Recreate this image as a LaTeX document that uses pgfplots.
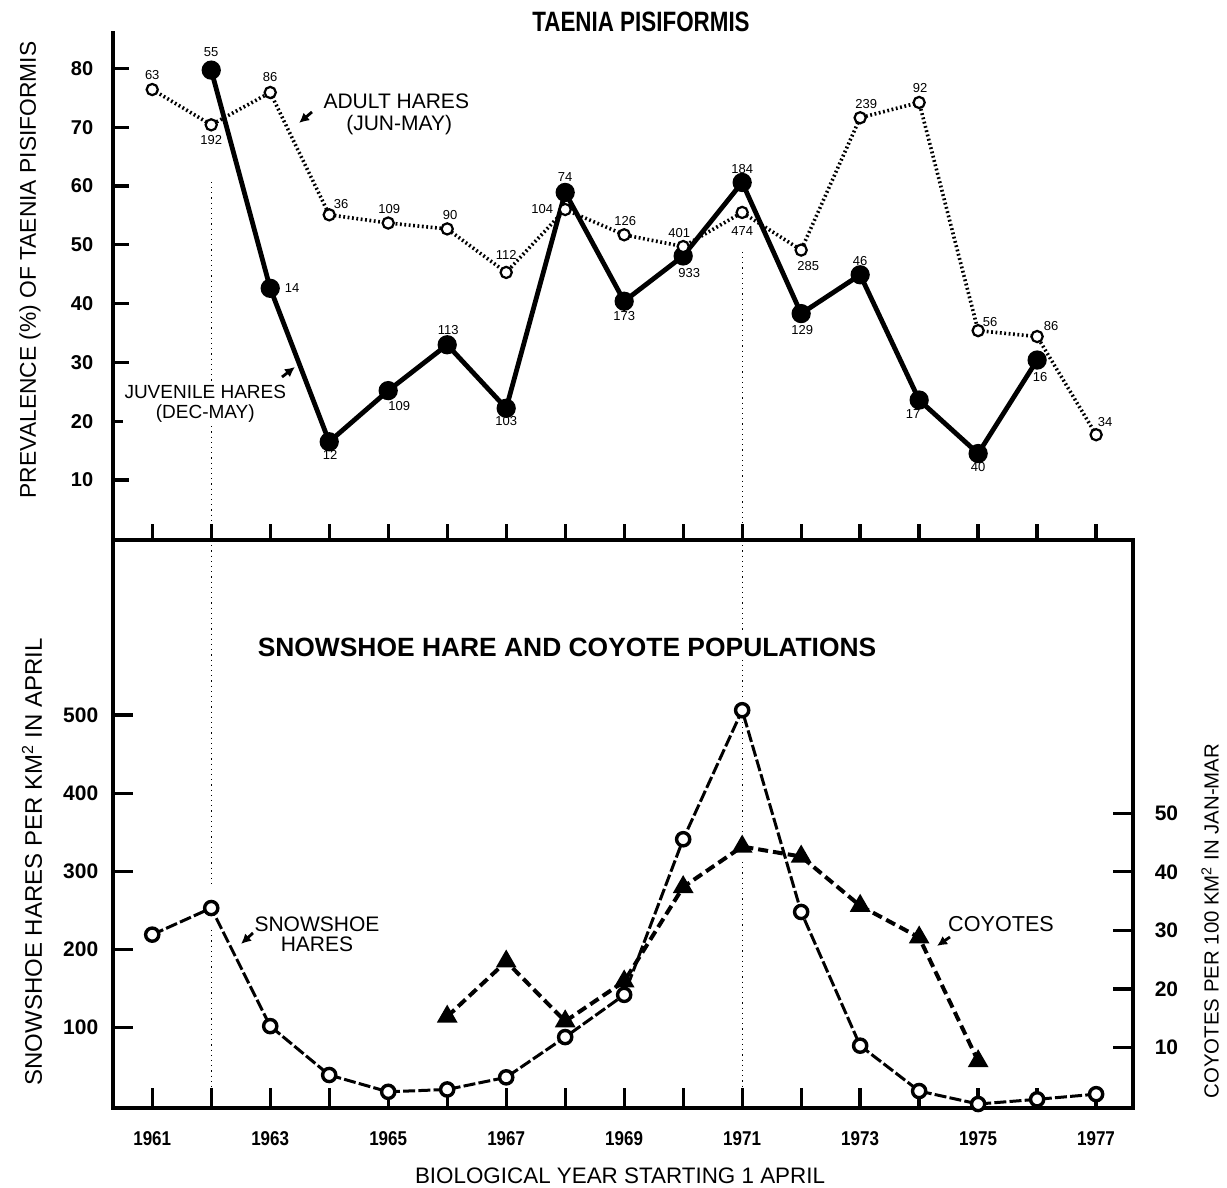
\documentclass[border=0pt]{standalone}
\usepackage{fontspec}
\setmainfont{Liberation Sans}
\newfontfamily\narrowfont[FakeStretch=0.85]{Liberation Sans}
\newfontfamily\titlefont[FakeStretch=0.8]{Liberation Sans}
\usepackage{pgfplots}
\pgfplotsset{compat=1.18}
\usetikzlibrary{arrows.meta}

% data label helper: year, value, dx, dy, text
\newcommand{\lab}[5]{\node[font=\fontsize{6.5}{7}\selectfont, inner sep=0pt] at (axis cs:#1,#2) [xshift=#3pt, yshift=#4pt] {#5};}

\pgfplotsset{
  panel/.style={
    width=509.7pt, scale only axis,
    xmin=1960.34, xmax=1977.62,
    axis line style={line width=2pt, -},
    tick style={line width=1.6pt, black},
    tick align=inside,
    /pgf/number format/assume math mode=true,
    clip=false,
  }
}

\begin{document}
\begin{tikzpicture}
\path[use as bounding box] (-56.65pt,-40pt) rectangle (556.85pt,554pt);

% ---------- top panel: prevalence ----------
\begin{axis}[
  panel,
  at={(0,284pt)}, anchor=south west,
  height=254.5pt,
  ymin=-0.2, ymax=86.36,
  axis x line*=bottom, axis y line*=left,
  xtick={1961,...,1977}, xticklabels={},
  ytick={10,20,...,80},
  major tick length=8pt,
  yticklabel style={font=\bfseries\fontsize{10}{12}\selectfont, xshift=-6.5pt},
]
\draw[dotted, line width=0.6pt] (axis cs:1962,60.7) -- (axis cs:1962,-0.2);
\draw[dotted, line width=0.6pt] (axis cs:1971,48.8) -- (axis cs:1971,-0.2);

% juvenile hares (Dec-May)
\addplot[black, line width=2.4pt, mark=*, mark size=3.6pt] coordinates {
  (1962,79.7) (1963,42.6) (1964,16.5) (1965,25.2) (1966,33.0) (1967,22.2)
  (1968,58.9) (1969,40.4) (1970,48.1) (1971,60.6) (1972,38.3) (1973,44.9)
  (1974,23.6) (1975,14.5) (1976,30.4)
};
% adult hares (Jun-May)
\addplot[black, line width=1.8pt, dash pattern=on 0.9pt off 1.3pt,
  mark=*, mark size=2.8pt, mark options={solid, fill=white, draw=black, line width=1.1pt}] coordinates {
  (1961,76.4) (1962,70.4) (1963,75.9) (1964,55.1) (1965,53.7) (1966,52.7)
  (1967,45.3) (1968,56.0) (1969,51.7) (1970,49.7) (1971,55.5) (1972,49.1)
  (1973,71.6) (1974,74.2) (1975,35.4) (1976,34.4) (1977,17.7)
};

\lab{1962}{79.7}{0}{9}{55}
\lab{1963}{42.6}{11}{0}{14}
\lab{1964}{16.5}{0.5}{-6.5}{12}
\lab{1965}{25.2}{5.5}{-7.5}{109}
\lab{1966}{33.0}{0.5}{7.5}{113}
\lab{1967}{22.2}{0}{-6.5}{103}
\lab{1968}{58.9}{0}{7.5}{74}
\lab{1969}{40.4}{0}{-7.5}{173}
\lab{1970}{48.1}{3}{-8.5}{933}
\lab{1971}{60.6}{0}{6.5}{184}
\lab{1972}{38.3}{0.5}{-8}{129}
\lab{1973}{44.9}{0}{7}{46}
\lab{1974}{23.6}{-3}{-7}{17}
\lab{1975}{14.5}{0}{-6.5}{40}
\lab{1976}{30.4}{1.5}{-8.5}{16}

\lab{1961}{76.4}{0}{7.5}{63}
\lab{1962}{70.4}{0}{-7.5}{192}
\lab{1963}{75.9}{0}{7.5}{86}
\lab{1964}{55.1}{6}{5.5}{36}
\lab{1965}{53.7}{0.5}{7}{109}
\lab{1966}{52.7}{1.5}{7}{90}
\lab{1967}{45.3}{0}{8.5}{112}
\lab{1968}{56.0}{-11.5}{0}{104}
\lab{1969}{51.7}{0.5}{7}{126}
\lab{1970}{49.7}{-2}{7}{401}
\lab{1971}{55.5}{0}{-9.5}{474}
\lab{1972}{49.1}{3.5}{-8}{285}
\lab{1973}{71.6}{3}{7}{239}
\lab{1974}{74.2}{0.5}{7}{92}
\lab{1975}{35.4}{6}{4.5}{56}
\lab{1976}{34.4}{7}{5}{86}
\lab{1977}{17.7}{4.5}{6.5}{34}
\end{axis}

% ---------- bottom panel: hares (left axis) ----------
\begin{axis}[
  panel,
  at={(0,0)}, anchor=south west,
  height=284pt,
  ymin=-2.69, ymax=723.7,
  xtick={1961,...,1977},
  xticklabels={1961,,1963,,1965,,1967,,1969,,1971,,1973,,1975,,1977},
  xtick pos=lower, ytick pos=left,
  ytick={100,200,...,500},
  major tick length=10pt,
  xticklabel style={font=\narrowfont\bfseries\fontsize{10}{12}\selectfont, yshift=-8pt},
  yticklabel style={font=\bfseries\fontsize{10.5}{12}\selectfont, xshift=-4pt},
]
\draw[dotted, line width=0.6pt] (axis cs:1962,723.7) -- (axis cs:1962,280);
\draw[dotted, line width=0.6pt] (axis cs:1962,225) -- (axis cs:1962,-2.69);
\draw[dotted, line width=0.6pt] (axis cs:1971,723.7) -- (axis cs:1971,519);
\draw[dotted, line width=0.6pt] (axis cs:1971,491) -- (axis cs:1971,342);
\draw[dotted, line width=0.6pt] (axis cs:1971,312) -- (axis cs:1971,-2.69);

% snowshoe hares
\addplot[black, line width=1.5pt, dash pattern=on 6pt off 1.6pt,
  mark=*, mark size=3.3pt, mark options={solid, fill=white, draw=black, line width=1.7pt}] coordinates {
  (1961,219) (1962,253) (1963,102) (1964,39.5) (1965,18) (1966,21)
  (1967,36.5) (1968,88) (1969,142) (1970,341) (1971,506) (1972,248)
  (1973,77) (1974,19) (1975,2.4) (1976,8.4) (1977,15)
};
\end{axis}

% ---------- bottom panel: coyotes (right axis) ----------
\begin{axis}[
  panel,
  at={(0,0)}, anchor=south west,
  height=284pt,
  ymin=-0.29, ymax=96.6,
  axis x line=none, axis y line*=right,
  ytick={10,20,...,50},
  major tick length=10pt,
  yticklabel style={font=\bfseries\fontsize{10.5}{12}\selectfont, xshift=7.5pt},
]
\addplot[black, line width=2pt, dash pattern=on 5pt off 2.5pt,
  mark=triangle*, mark size=4pt, mark options={solid}] coordinates {
  (1966,15.3) (1967,24.7) (1968,14.5) (1969,21.3) (1970,37.4) (1971,44.3)
  (1972,42.6) (1973,34.2) (1974,28.8) (1975,7.7)
};
\end{axis}

% ---------- titles, labels, annotations ----------
\node[font=\titlefont\bfseries\fontsize{14}{16}\selectfont, inner sep=0pt] at (263.85pt,543pt) {TAENIA PISIFORMIS};
\node[font=\bfseries\fontsize{13.2}{16}\selectfont, fill=white, inner sep=2pt] at (226.85pt,230.5pt) {SNOWSHOE HARE AND COYOTE POPULATIONS};
\node[font=\fontsize{11.2}{13}\selectfont, inner sep=0pt] at (253.35pt,-34pt) {BIOLOGICAL YEAR STARTING 1 APRIL};

\node[rotate=90, font=\fontsize{11.4}{13}\selectfont] at (-41.65pt,419pt) {PREVALENCE (\%) OF TAENIA PISIFORMIS};
\node[rotate=90, font=\fontsize{12}{14}\selectfont] at (-40.65pt,123pt) {SNOWSHOE HARES PER KM\textsuperscript{2} IN APRIL};
\node[rotate=90, font=\fontsize{10.2}{12}\selectfont] at (548.35pt,93.5pt) {COYOTES PER 100 KM\textsuperscript{2} IN JAN-MAR};

\node[font=\fontsize{10.5}{12}\selectfont, align=center, inner sep=1pt] at (141.5pt,497pt) {ADULT HARES\\[-1pt]\ (JUN-MAY)};
\draw[line width=1.4pt, -{Latex[length=5pt,width=5pt]}] (99.35pt,498pt) -- (92.85pt,492.5pt);

\node[font=\fontsize{9.5}{11}\selectfont, align=center, fill=white, inner sep=1pt] at (46pt,352pt) {JUVENILE HARES\\[-1pt](DEC-MAY)};
\draw[line width=1.4pt, -{Latex[length=5pt,width=5pt]}] (84.35pt,365.5pt) -- (90.85pt,370.5pt);

\node[font=\fontsize{10.5}{12}\selectfont, align=center, inner sep=1pt] at (101.85pt,87pt) {SNOWSHOE\\[-2pt]HARES};
\draw[line width=1.4pt, -{Latex[length=5pt,width=5pt]}] (69.85pt,87.5pt) -- (63.85pt,82pt);

\node[font=\fontsize{10.8}{12}\selectfont] at (443.85pt,92pt) {COYOTES};
\draw[line width=1.4pt, -{Latex[length=5pt,width=5pt]}] (418.35pt,85.5pt) -- (411.85pt,81pt);
\end{tikzpicture}
\end{document}
